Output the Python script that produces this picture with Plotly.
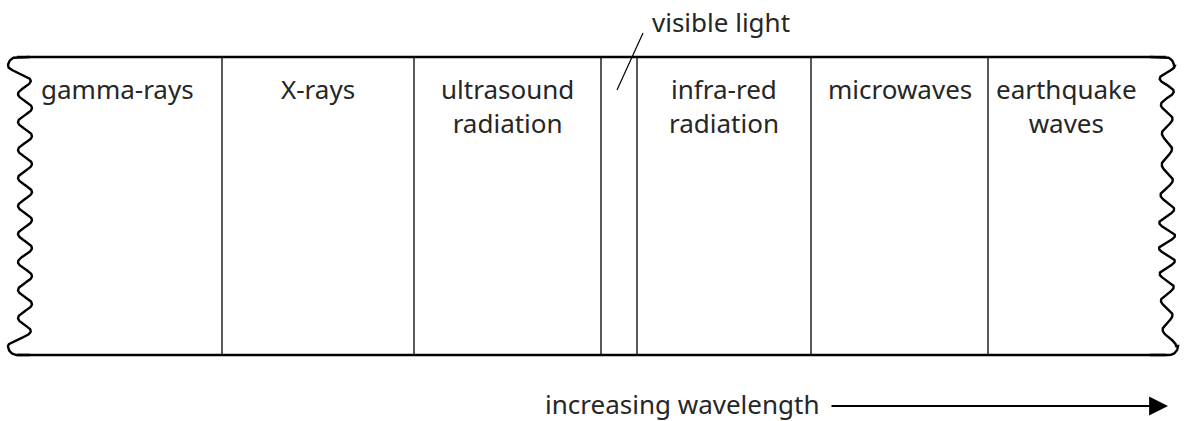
import numpy as np
import plotly.graph_objects as go

# Regions of the spectrum (left to right) and their boundaries
regions = ["gamma-rays", "X-rays", "ultrasound<br>radiation", "", "infra-red<br>radiation",
           "microwaves", "earthquake<br>waves"]
boundaries = [22, 222, 414, 601, 637, 811, 988, 1170]
callout = "visible light"
axis_label = "increasing wavelength"

W, H = 1184, 421
TOP, BOT = 57, 355
FONT = "Noto Sans"
FS = 26
TXT = "#262626"
LW = 2.4

fig = go.Figure()


def arc(cx, cy, r, a0, a1, n=24):
    a = np.linspace(np.radians(a0), np.radians(a1), n)
    return cx + r * np.cos(a), cy - r * np.sin(a)


# ---- left wavy edge with rounded corners
R = 9
y0, y1 = TOP + R, BOT - R
ys = np.linspace(y0, y1, 800)
P = (y1 - y0) / 10.0
shift = 10 * np.exp(-((ys - y0) / 10) ** 2) + 10 * np.exp(-((ys - y1) / 10) ** 2)
xl = 25 - shift - 7 * np.cos(2 * np.pi * (ys - y0) / P)
ax1, ay1 = arc(17, TOP + R, R, 90, 180)
ax2, ay2 = arc(17, BOT - R, R, 180, 270)
fig.add_trace(go.Scatter(x=np.concatenate([[30], ax1, xl, ax2, [30]]),
                         y=np.concatenate([[TOP], ay1, ys, ay2, [BOT]]),
                         mode="lines", line=dict(color="black", width=LW), hoverinfo="skip"))

# ---- right wavy edge (slightly irregular)
phase = 2 * np.pi * (ys - y0) / P + 0.7 * np.sin(np.pi * (ys - y0) / (y1 - y0) * 3)
shift_r = 4 * np.exp(-((ys - y1) / 12) ** 2)
xr = 1167 + shift_r + (6.5 + 1.5 * np.sin(ys / 31.0)) * np.cos(phase)
bx1, by1 = arc(1165, TOP + R, R, 90, 0)
bx2, by2 = arc(1165 + 4, BOT - R, R, 0, -90)
fig.add_trace(go.Scatter(x=np.concatenate([[1150], bx1, xr, bx2, [1150]]),
                         y=np.concatenate([[TOP], by1, ys, by2, [BOT]]),
                         mode="lines", line=dict(color="black", width=LW), hoverinfo="skip"))

# ---- top and bottom edges
for yy in (TOP, BOT):
    fig.add_trace(go.Scatter(x=[17, 1166], y=[yy, yy], mode="lines",
                             line=dict(color="black", width=LW), hoverinfo="skip"))

# ---- dividers
for b in boundaries[1:-1]:
    fig.add_trace(go.Scatter(x=[b, b], y=[TOP, BOT], mode="lines",
                             line=dict(color="black", width=1.3), hoverinfo="skip"))

# ---- region labels
for i, name in enumerate(regions):
    if not name:
        continue
    cx = (boundaries[i] + boundaries[i + 1]) / 2
    if i == 0:
        cx = 117
    if i == len(regions) - 1:
        cx = 1066
    fig.add_annotation(x=cx, y=69, text=name, showarrow=False, yanchor="top",
                       font=dict(family=FONT, size=FS, color=TXT), align="center")

# ---- visible light callout
fig.add_trace(go.Scatter(x=[643, 617], y=[33, 90], mode="lines",
                         line=dict(color="black", width=1.2), hoverinfo="skip"))
fig.add_annotation(x=721, y=22, text=callout, showarrow=False,
                   font=dict(family=FONT, size=FS, color=TXT))

# ---- bottom label and arrow
fig.add_annotation(x=821, y=404, text=axis_label, showarrow=False, xanchor="right",
                   font=dict(family=FONT, size=FS, color=TXT))
fig.add_annotation(x=1168, y=406, ax=830, ay=406, xref="x", yref="y", axref="x", ayref="y",
                   text="", showarrow=True, arrowhead=2, arrowsize=2.1, arrowwidth=1.8,
                   arrowcolor="black")

fig.update_layout(width=W, height=H, margin=dict(l=0, r=0, t=0, b=0),
                  paper_bgcolor="white", plot_bgcolor="white", showlegend=False,
                  xaxis=dict(range=[0, W], visible=False, fixedrange=True),
                  yaxis=dict(range=[H, 0], visible=False, fixedrange=True))

fig.write_html("out.html", config={"displayModeBar": False},
               post_script="document.body.style.margin='0';document.body.style.overflow='hidden';")
